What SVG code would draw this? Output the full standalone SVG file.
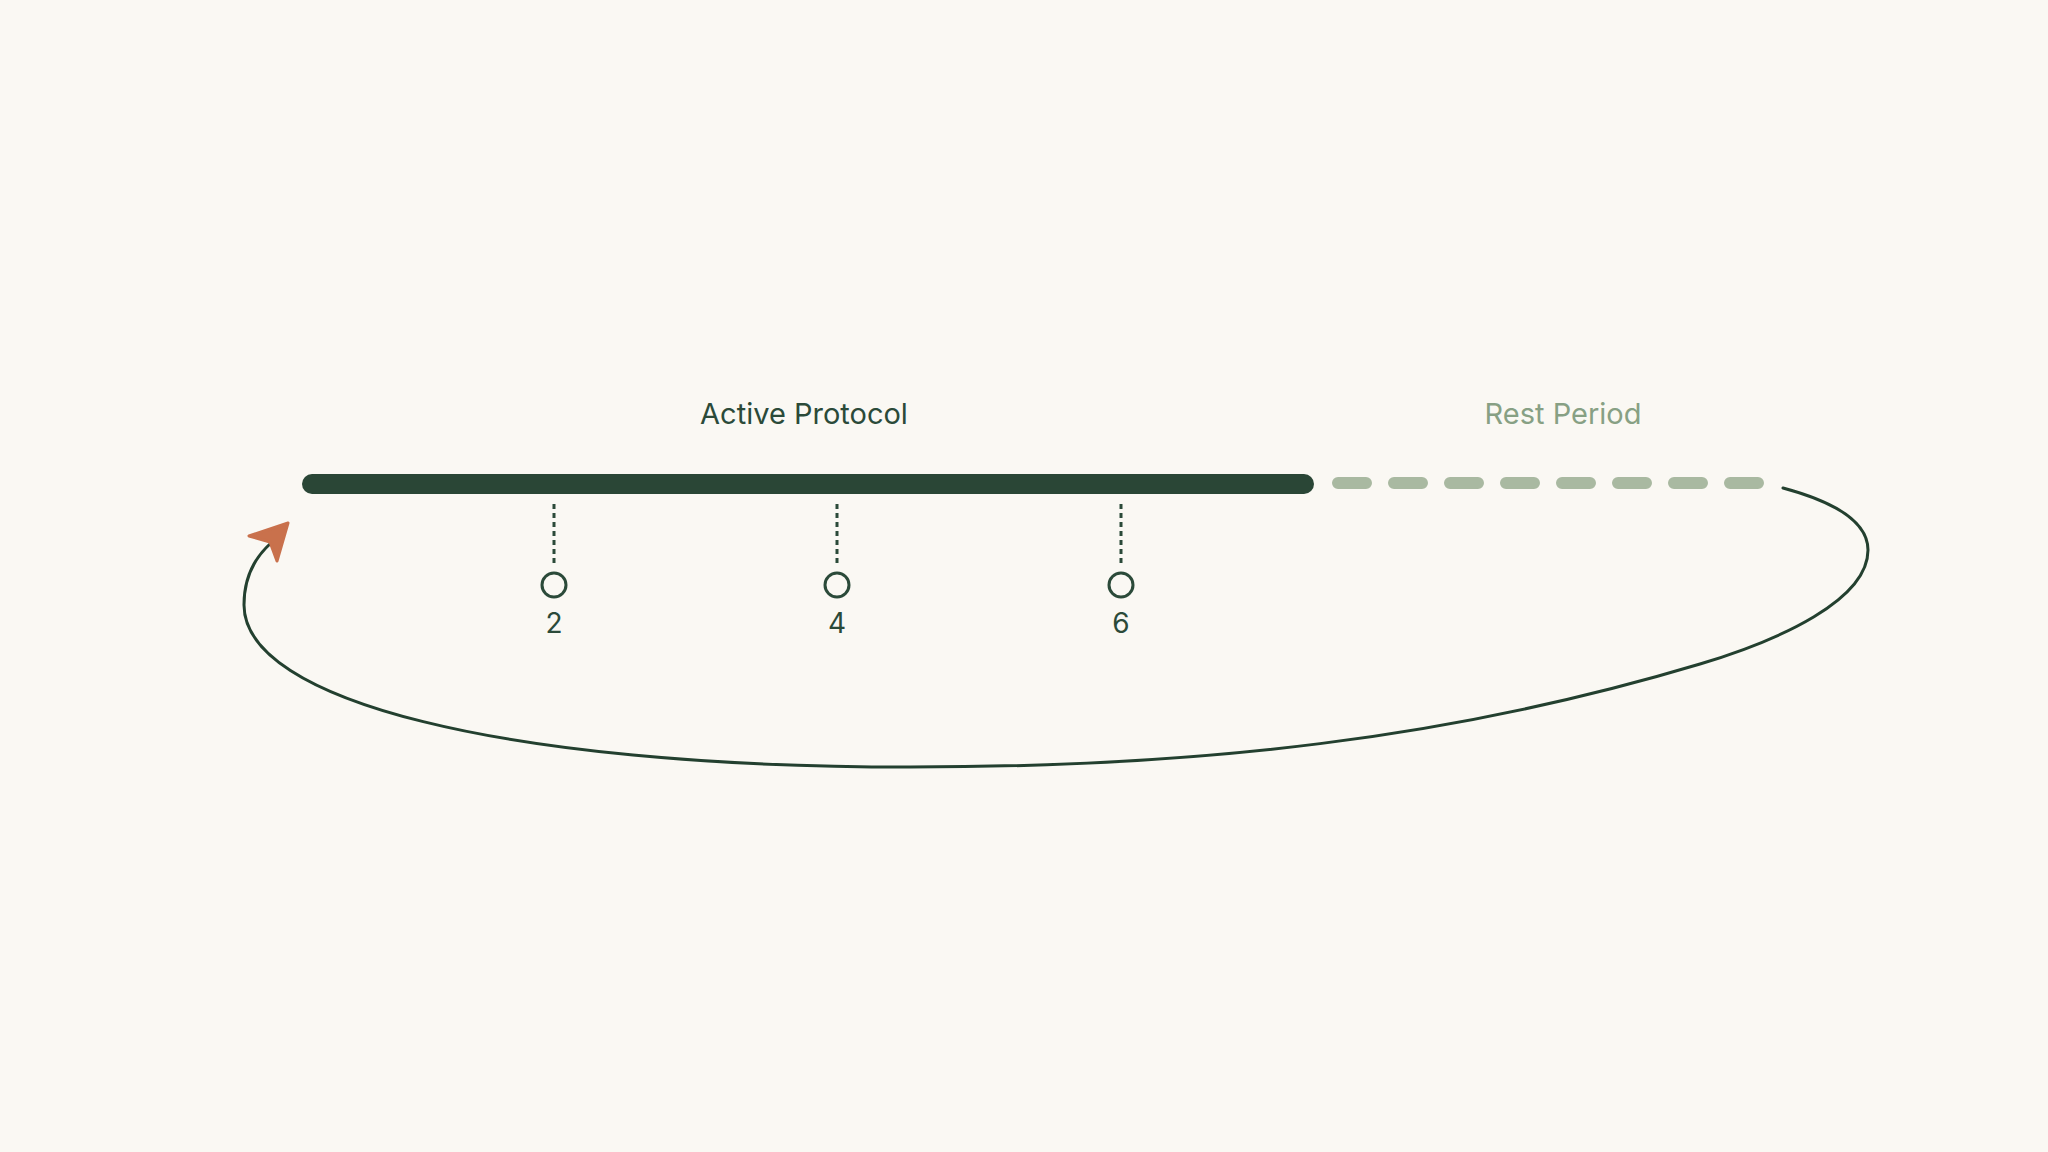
<svg xmlns="http://www.w3.org/2000/svg" width="2048" height="1152" viewBox="0 0 2048 1152">
  <style>
    .lbl { font-family: Inter, "Liberation Sans", sans-serif; font-size: 29px; text-anchor: middle; }
    .dark { fill: #2b4a39; }
    .rest { fill: #87a084; }
    .num { font-family: Inter, "Liberation Sans", sans-serif; font-size: 28px; text-anchor: middle; fill: #2b4a39; }
    .tick { stroke: #2b4a39; stroke-width: 3; stroke-dasharray: 5 4; fill: none; }
    .dot { fill: #faf8f3; stroke: #2b4a39; stroke-width: 3; }
  </style>
  <rect width="2048" height="1152" fill="#faf8f3"/>

  <g id="active-protocol">
    <line x1="312" y1="484" x2="1304" y2="484" stroke="#2a4636" stroke-width="20" stroke-linecap="round"/>
    <text class="lbl dark" x="804" y="424">Active Protocol</text>
  </g>

  <g id="rest-period">
    <line x1="1338" y1="483" x2="1762" y2="483" stroke="#a9b9a1" stroke-width="12" stroke-linecap="round" stroke-dasharray="28 28"/>
    <text class="lbl rest" x="1563" y="424">Rest Period</text>
  </g>

  <g id="marker-2">
    <line class="tick" x1="554" y1="504" x2="554" y2="566"/>
    <circle class="dot" cx="554" cy="585" r="12"/>
    <text class="num" x="554" y="633">2</text>
  </g>
  <g id="marker-4">
    <line class="tick" x1="837" y1="504" x2="837" y2="566"/>
    <circle class="dot" cx="837" cy="585" r="12"/>
    <text class="num" x="837" y="633">4</text>
  </g>
  <g id="marker-6">
    <line class="tick" x1="1121" y1="504" x2="1121" y2="566"/>
    <circle class="dot" cx="1121" cy="585" r="12"/>
    <text class="num" x="1121" y="633">6</text>
  </g>

  <g id="connectors">
    <path d="M 1783 488 C 1835 502, 1868 522, 1868 550 C 1868 600, 1780 640, 1700 664 C 1450 739, 1200 767, 910 767 C 500 767, 244 700, 244 605 C 244 580, 252 560, 271 543" fill="none" stroke="#23402f" stroke-width="3" stroke-linecap="round"/>
    <polygon points="288,523 249,536 270,542 277,561" fill="#c9714c" stroke="#c9714c" stroke-width="3" stroke-linejoin="round"/>
  </g>
</svg>
